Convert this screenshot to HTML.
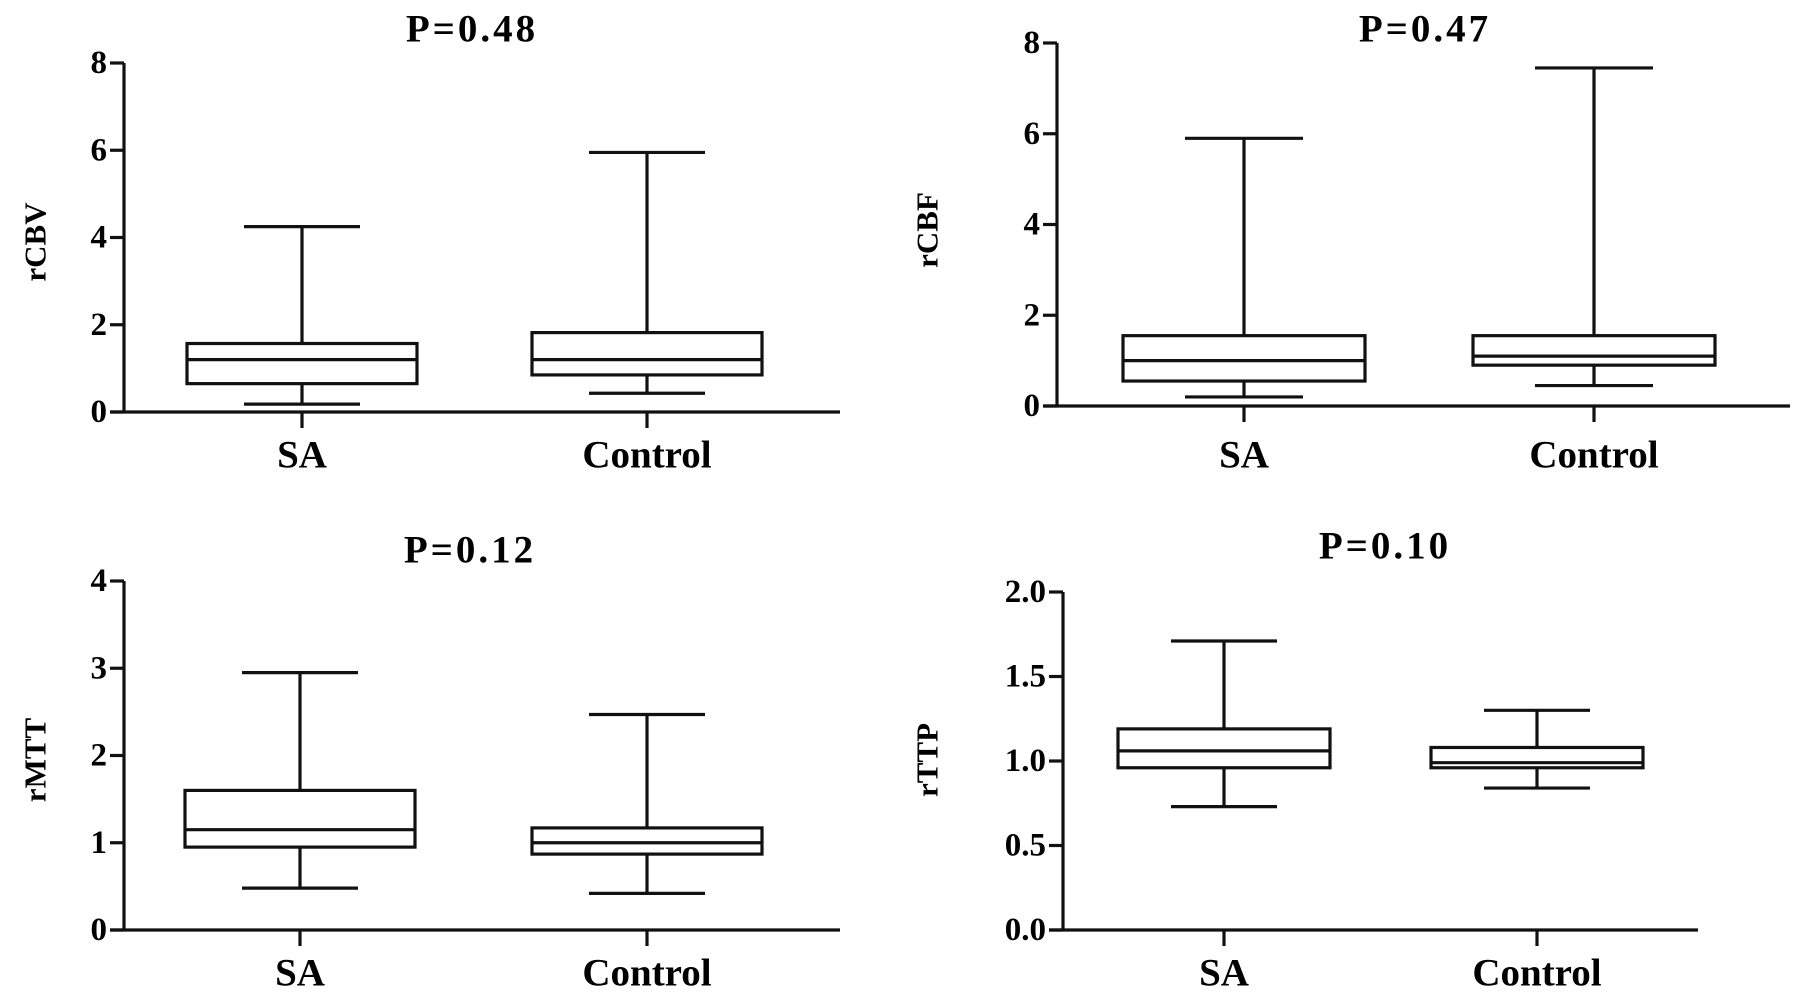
<!DOCTYPE html>
<html><head><meta charset="utf-8"><style>
html,body{margin:0;padding:0;background:#fff;}
svg{display:block;font-family:"Liberation Serif",serif;font-weight:bold;}
</style></head><body>
<svg id="fig" width="1795" height="994" viewBox="0 0 1795 994"></svg>
<script>
const categories = ["SA", "Control"];
const panelTitles = ["P=0.48", "P=0.47", "P=0.12", "P=0.10"];
const yLabels = ["rCBV", "rCBF", "rMTT", "rTTP"];
const yTicks1 = ["0", "2", "4", "6", "8"];
const yTicks2 = ["0", "2", "4", "6", "8"];
const yTicks3 = ["0", "1", "2", "3", "4"];
const yTicks4 = ["0.0", "0.5", "1.0", "1.5", "2.0"];
// [min, q1, median, q3, max] per category
const rcbvSA = [0.18, 0.65, 1.2, 1.57, 4.25];
const rcbvControl = [0.43, 0.85, 1.2, 1.82, 5.95];
const rcbfSA = [0.2, 0.55, 1.0, 1.55, 5.9];
const rcbfControl = [0.45, 0.9, 1.1, 1.55, 7.45];
const rmttSA = [0.48, 0.95, 1.15, 1.6, 2.95];
const rmttControl = [0.42, 0.87, 1.0, 1.17, 2.47];
const rttpSA = [0.73, 0.96, 1.06, 1.19, 1.71];
const rttpControl = [0.84, 0.96, 0.99, 1.08, 1.30];

const NS = "http://www.w3.org/2000/svg";
const svg = document.getElementById("fig");
function mk(tag, attrs, parent, text){
  const e = document.createElementNS(NS, tag);
  for (const k in attrs) e.setAttribute(k, attrs[k]);
  if (text !== undefined) e.textContent = text;
  (parent || svg).appendChild(e);
  return e;
}
const layouts = [
  {ax:124, yTop:63, yBot:412, xEnd:840, cx:[302,647], bw:115, cw:58, tx:472, ty:29, lx:35, ly:242, caty:455, max:8, ticks:yTicks1, data:[rcbvSA, rcbvControl]},
  {ax:1057, yTop:43, yBot:406, xEnd:1790, cx:[1244,1594], bw:121, cw:59, tx:1425, ty:29, lx:927, ly:230, caty:455, max:8, ticks:yTicks2, data:[rcbfSA, rcbfControl]},
  {ax:124, yTop:581, yBot:930, xEnd:840, cx:[300,647], bw:115, cw:58, tx:470, ty:550, lx:35, ly:760, caty:973, max:4, ticks:yTicks3, data:[rmttSA, rmttControl]},
  {ax:1063, yTop:592, yBot:930, xEnd:1698, cx:[1224,1537], bw:106, cw:53, tx:1385, ty:546, lx:927, ly:760, caty:973, max:2, ticks:yTicks4, data:[rttpSA, rttpControl]}
];
layouts.forEach((L, i) => {
  const g = mk("g", {});
  
  
  const y = v => L.yBot - (v / L.max) * (L.yBot - L.yTop);
  const st = {stroke:"#111", "stroke-width":3.2, fill:"none"};
  const t = mk("text", {x:L.tx, y:L.ty, "font-size":39, "text-anchor":"middle", "dominant-baseline":"central", "letter-spacing":"3"}, g, panelTitles[i]);
  
  
  const yl = mk("text", {x:0, y:0, "font-size":31, "text-anchor":"middle", "dominant-baseline":"central", transform:`translate(${L.lx},${L.ly}) rotate(-90)`}, g, yLabels[i]);
  
  
  const yaxis = mk("line", Object.assign({x1:L.ax, y1:L.yTop, x2:L.ax, y2:L.yBot}, st), g);
  
  
  const xaxis = mk("line", Object.assign({x1:L.ax - 14, y1:L.yBot, x2:L.xEnd, y2:L.yBot}, st), g);
  
  
  L.ticks.forEach((lab, k) => {
    const v = (k / (L.ticks.length - 1)) * L.max;
    const yy = y(v);
    const tk = mk("line", Object.assign({x1:L.ax - 14, y1:yy, x2:L.ax, y2:yy}, st), g);
    
    
    const tl = mk("text", {x:L.ax - 17, y:yy, "font-size":33, "text-anchor":"end", "dominant-baseline":"central"}, g, lab);
    
    
  });
  categories.forEach((c, j) => {
    const cx = L.cx[j], d = L.data[j];
    const tk = mk("line", Object.assign({x1:cx, y1:L.yBot, x2:cx, y2:L.yBot + 16}, st), g);
    
    
    const cl = mk("text", {x:cx, y:L.caty, "font-size":39, "text-anchor":"middle", "dominant-baseline":"central"}, g, c);
    
    
    const bg = mk("g", {}, g);
    
    
    mk("line", Object.assign({x1:cx, y1:y(d[0]), x2:cx, y2:y(d[1])}, st), bg);
    mk("line", Object.assign({x1:cx, y1:y(d[3]), x2:cx, y2:y(d[4])}, st), bg);
    mk("line", Object.assign({x1:cx - L.cw, y1:y(d[0]), x2:cx + L.cw, y2:y(d[0])}, st), bg);
    mk("line", Object.assign({x1:cx - L.cw, y1:y(d[4]), x2:cx + L.cw, y2:y(d[4])}, st), bg);
    mk("rect", Object.assign({x:cx - L.bw, y:y(d[3]), width:2 * L.bw, height:y(d[1]) - y(d[3])}, st), bg);
    mk("line", Object.assign({x1:cx - L.bw, y1:y(d[2]), x2:cx + L.bw, y2:y(d[2])}, st), bg);
  });
});
</script>
</body></html>
